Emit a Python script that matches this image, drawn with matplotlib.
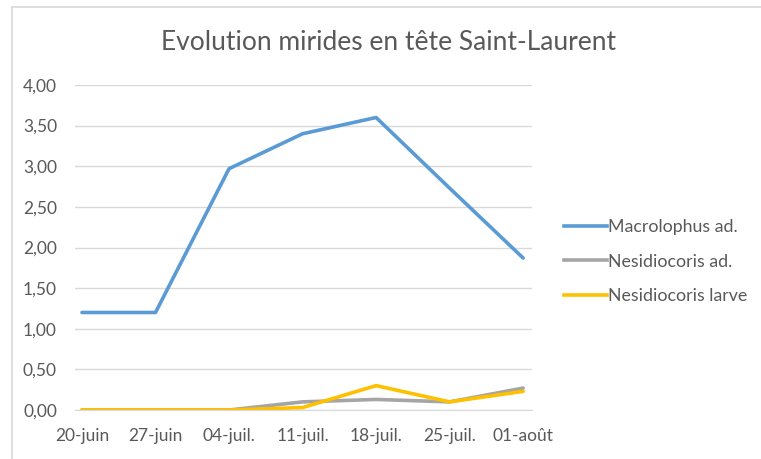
import matplotlib.pyplot as plt
from matplotlib.lines import Line2D

plt.rcParams['font.family'] = ['Lato', 'DejaVu Sans']

dates = ['20-juin', '27-juin', '04-juil.', '11-juil.', '18-juil.', '25-juil.', '01-août']
macrolophus = [1.20, 1.20, 2.97, 3.40, 3.60, 2.73, 1.87]
nesidio_ad = [0.00, 0.00, 0.00, 0.10, 0.13, 0.10, 0.27]
nesidio_larve = [0.00, 0.00, 0.00, 0.03, 0.30, 0.10, 0.23]
yticks = [0, 0.5, 1, 1.5, 2, 2.5, 3, 3.5, 4]

txt = '#595959'
fig = plt.figure(figsize=(7.61, 4.59), dpi=100)
ax = fig.add_axes([75/761, 1 - 410/459, 457/761, 325/459])

x = range(len(dates))
ax.plot(x, macrolophus, color='#5b9bd5', lw=2.6, label='Macrolophus ad.', solid_capstyle='round')
ax.plot(x, nesidio_ad, color='#a5a5a5', lw=2.6, label='Nesidiocoris ad.', solid_capstyle='round')
ax.plot(x, nesidio_larve, color='#ffc000', lw=2.6, label='Nesidiocoris larve', solid_capstyle='round')

ax.set_xlim(-0.095, 6.12)
ax.set_ylim(0, 4)
ax.set_yticks(yticks)
ax.yaxis.set_major_formatter(plt.FuncFormatter(lambda v, p: ('%.2f' % v).replace('.', ',')))
ax.set_xticks(list(x))
ax.set_xticklabels(dates)
ax.grid(axis='y', color='#d9d9d9', lw=1)
ax.set_axisbelow(True)
for s in ['top', 'right', 'left']:
    ax.spines[s].set_visible(False)
ax.spines['bottom'].set_color('#d9d9d9')
ax.tick_params(length=0, colors=txt, labelsize=12.5)
ax.tick_params(axis='y', pad=13)
ax.tick_params(axis='x', pad=13)

fig.text((157 + 620) / 2 / 761, 1 - 43/459, 'Evolution mirides en tête Saint-Laurent',
         ha='center', va='center', fontsize=19, color=txt)

handles = [Line2D([], [], color=c, lw=2.6) for c in ['#5b9bd5', '#a5a5a5', '#ffc000']]
leg = fig.legend(handles, ['Macrolophus ad.', 'Nesidiocoris ad.', 'Nesidiocoris larve'],
                 loc='upper left', bbox_to_anchor=(548/761, 1 - 203/459), frameon=False,
                 fontsize=12.8, handlelength=2.4, handletextpad=0.1, labelspacing=1.05)
for t in leg.get_texts():
    t.set_color(txt)

# chart border (top and left visible)
fig.add_artist(Line2D([12/761, 12/761], [0, 1 - 7/459], color='#d9d9d9', lw=1.2))
fig.add_artist(Line2D([12/761, 1], [1 - 7/459, 1 - 7/459], color='#d9d9d9', lw=1.2))

fig.savefig('out.png', dpi=100)
